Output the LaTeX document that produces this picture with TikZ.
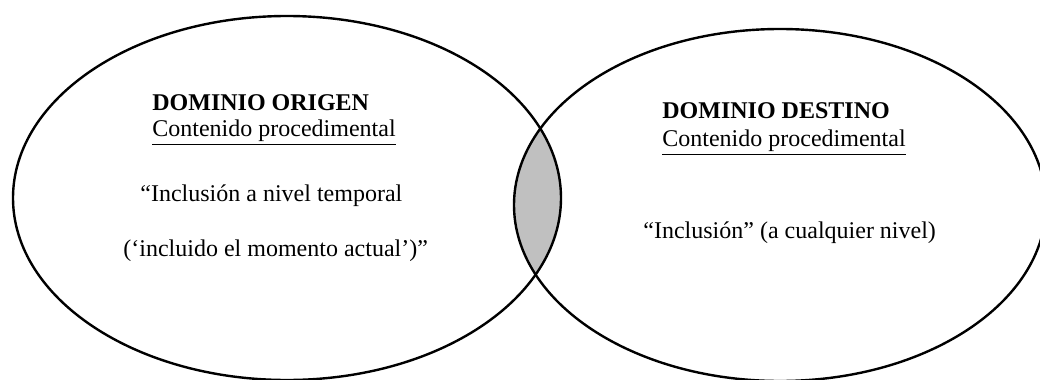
\documentclass[tikz,border=0pt]{standalone}
\usepackage{fontspec}
\setmainfont{Liberation Serif}
\usepackage{xcolor}
\usetikzlibrary{positioning}
\definecolor{lensgray}{HTML}{C0C0C0}

\begin{document}
\begin{tikzpicture}[x=0.5pt,y=-0.5pt,
  font=\fontsize{12}{14}\selectfont,
  dom/.style={draw=black,line width=1.2pt},
  lens/.style={fill=lensgray},
  ttl/.style={anchor=base west,inner sep=0pt,font=\fontsize{12}{14}\selectfont\bfseries},
  txt/.style={anchor=base west,inner sep=0pt}]
  \useasboundingbox[fill=white] (0,0) rectangle (1040,380);
  \coordinate (origen) at (287,198);
  \coordinate (destino) at (780,205);

  % shared part
  \begin{scope}
    \clip (origen) ellipse [x radius=274,y radius=182];
    \fill[lens] (destino) ellipse [x radius=266,y radius=176];
  \end{scope}
  \draw[dom] (origen) ellipse [x radius=274,y radius=182];
  \draw[dom] (destino) ellipse [x radius=266,y radius=176];

  % left domain
  \node[ttl] (o1) at (152,110) {DOMINIO ORIGEN};
  \node[txt] (o2) at (152,136) {\underline{Contenido procedimental}};
  \node[txt] (o3) at (140,201) {“Inclusión a nivel temporal};
  \node[txt] (o4) at (123,256) {(‘incluido el momento actual’)”};

  % right domain
  \node[ttl] (d1) at (662,118) {DOMINIO DESTINO};
  \node[txt] (d2) at (662,146) {\underline{Contenido procedimental}};
  \node[txt] (d3) at (643,238) {“Inclusión” (a cualquier nivel)};
\end{tikzpicture}
\end{document}
